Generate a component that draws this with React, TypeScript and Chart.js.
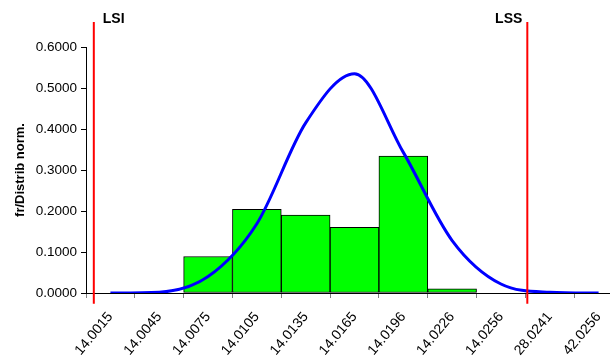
import React, { useEffect, useRef } from "react";
import { Chart, registerables } from "chart.js";

Chart.register(...registerables);

const categories = [
  "14.0015", "14.0045", "14.0075", "14.0105", "14.0135", "14.0165",
  "14.0196", "14.0226", "14.0256", "28.0241", "42.0256",
];
const relFreq = [null, null, 0.089, 0.204, 0.19, 0.16, 0.334, 0.01, null, null, null];
const normDist = [0.0, 0.002, 0.04, 0.169, 0.415, 0.535, 0.343, 0.128, 0.022, 0.002, 0.0];
const limitLabels = ["LSI", "LSS"];
// limit positions expressed in category-index units
const limitPositions = [-0.34, 8.54];
const limitSpan = [-0.026, 0.661];
const yMin = 0;
const yMax = 0.6;
const yStep = 0.1;
const yTitle = "fr/Distrib norm.";

const FONT = "'Liberation Sans', Arial, sans-serif";

export default function App() {
  const ref = useRef<HTMLCanvasElement | null>(null);

  useEffect(() => {
    if (!ref.current) return;
    const limitLabelPlugin = {
      id: "limitLabels",
      afterDatasetsDraw(chart: any) {
        const ctx = chart.ctx;
        const xs = chart.scales.xl;
        const ys = chart.scales.y;
        ctx.save();
        ctx.font = `bold 14px ${FONT}`;
        ctx.fillStyle = "#000";
        ctx.textBaseline = "middle";
        limitLabels.forEach((lab, i) => {
          const px = xs.getPixelForValue(limitPositions[i]);
          const py = ys.getPixelForValue(limitSpan[1]) - 3;
          if (i === 0) {
            ctx.textAlign = "left";
            ctx.fillText(lab, px + 9, py);
          } else {
            ctx.textAlign = "right";
            ctx.fillText(lab, px - 5, py);
          }
        });
        ctx.restore();
      },
    };

    const chart = new Chart(ref.current, {
      type: "bar",
      data: {
        labels: categories,
        datasets: [
          ...limitPositions.map((p, i) => ({
            type: "line" as const,
            label: limitLabels[i],
            data: [
              { x: p, y: limitSpan[0] },
              { x: p, y: limitSpan[1] },
            ],
            xAxisID: "xl",
            yAxisID: "y",
            borderColor: "#FF0000",
            borderWidth: 2,
            pointRadius: 0,
            clip: false as any,
            order: 0,
          })),
          {
            type: "line" as const,
            label: "Distrib norm.",
            data: normDist,
            xAxisID: "x",
            yAxisID: "y",
            borderColor: "#0000FF",
            borderWidth: 3,
            pointRadius: 0,
            cubicInterpolationMode: "monotone",
            fill: false,
            order: 1,
          },
          {
            type: "bar" as const,
            label: "fr",
            data: relFreq as any,
            xAxisID: "x",
            yAxisID: "y",
            backgroundColor: "#00FF00",
            borderColor: "#000000",
            borderWidth: 1,
            borderSkipped: false,
            categoryPercentage: 1,
            barPercentage: 1,
            grouped: false,
            order: 3,
          },
        ] as any,
      },
      options: {
        responsive: false,
        animation: false,
        layout: { padding: { left: 0, top: 47, right: 7, bottom: 0 } },
        plugins: {
          legend: { display: false },
          tooltip: { enabled: false },
        },
        scales: {
          x: {
            type: "category",
            offset: true,
            grid: {
              offset: true,
              drawOnChartArea: false,
              drawTicks: true,
              tickLength: 5,
              color: "#808080",
            },
            border: { display: true, color: "#000", width: 1 },
            ticks: {
              autoSkip: false,
              maxRotation: 50,
              minRotation: 50,
              padding: 11,
              color: "#000",
              font: { family: FONT, size: 14 },
            },
            afterFit(scale: any) {
              scale.height = 65;
            },
          },
          xl: {
            type: "linear",
            display: false,
            offset: false,
            min: -0.5,
            max: categories.length - 0.5,
          },
          y: {
            type: "linear",
            min: yMin,
            max: yMax,
            grid: {
              drawOnChartArea: false,
              drawTicks: true,
              tickLength: 5,
              color: "#000",
            },
            border: { display: true, color: "#000", width: 1 },
            ticks: {
              stepSize: yStep,
              padding: 4,
              color: "#000",
              font: { family: FONT, size: 13.5 },
              callback: (v: any) => Number(v).toFixed(4),
            },
            title: {
              display: true,
              text: yTitle,
              color: "#000",
              font: { family: FONT, size: 13, weight: "bold" },
              padding: { top: 13, bottom: 0 },
            },
            afterFit(scale: any) {
              scale.width = 86;
            },
          },
        },
      } as any,
      plugins: [limitLabelPlugin],
    });
    return () => chart.destroy();
  }, []);

  return (
    <div
      style={{
        position: "fixed",
        left: 0,
        top: 0,
        width: 610,
        height: 358,
        overflow: "hidden",
        background: "#fff",
      }}
    >
      <canvas ref={ref} width={630} height={358} style={{ display: "block" }} />
    </div>
  );
}
